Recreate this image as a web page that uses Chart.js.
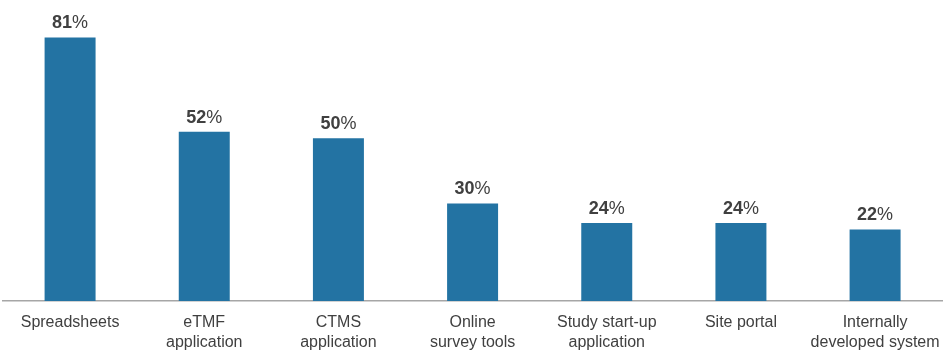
<!DOCTYPE html>
<html>
<head>
<meta charset="utf-8">
<script src="https://cdn.jsdelivr.net/npm/chart.js@4"></script>
<style>
  html, body { margin: 0; padding: 0; background: #fff; }
  #wrap { width: 952px; height: 364px; }
</style>
</head>
<body>
<div id="wrap"><canvas id="myChart"></canvas></div>
<script>
let categories = [
  'Spreadsheets',
  ['eTMF', 'application'],
  ['CTMS', 'application'],
  ['Online', 'survey tools'],
  ['Study start-up', 'application'],
  'Site portal',
  ['Internally', 'developed system']
]
let shares = [81, 52, 50, 30, 24, 24, 22]

let textColor = '#404040'
let barColor = '#2373a3'

// number in bold, % sign regular, above each bar
let valueLabels = {
  id: 'valueLabels',
  afterDatasetsDraw(chart) {
    let ctx = chart.ctx
    let meta = chart.getDatasetMeta(0)
    ctx.save()
    ctx.fillStyle = textColor
    ctx.textBaseline = 'alphabetic'
    meta.data.forEach(function(bar, i) {
      let num = String(chart.data.datasets[0].data[i])
      ctx.font = 'bold 18px "Liberation Sans", Arial, sans-serif'
      let w1 = ctx.measureText(num).width
      ctx.font = '18px "Liberation Sans", Arial, sans-serif'
      let w2 = ctx.measureText('%').width
      let x0 = bar.x - (w1 + w2) / 2
      let y = bar.y - 9
      ctx.font = 'bold 18px "Liberation Sans", Arial, sans-serif'
      ctx.textAlign = 'left'
      ctx.fillText(num, x0, y)
      ctx.font = '18px "Liberation Sans", Arial, sans-serif'
      ctx.fillText('%', x0 + w1, y)
    })
    ctx.restore()
  }
}

new Chart(document.getElementById('myChart'), {
  type: 'bar',
  data: {
    labels: categories,
    datasets: [{
      data: shares,
      backgroundColor: barColor,
      borderWidth: 0,
      categoryPercentage: 1,
      barPercentage: 0.38
    }]
  },
  options: {
    responsive: true,
    maintainAspectRatio: false,
    animation: false,
    layout: { padding: { left: 3, right: 6, top: 0, bottom: -1 } },
    plugins: {
      legend: { display: false },
      tooltip: { enabled: false }
    },
    scales: {
      x: {
        grid: { display: false, drawTicks: false },
        border: { display: true, color: '#a6a6a6', width: 1.5 },
        ticks: {
          color: textColor,
          padding: 12,
          maxRotation: 0,
          autoSkip: false,
          font: { family: '"Liberation Sans", Arial, sans-serif', size: 16, lineHeight: 1.25 }
        }
      },
      y: {
        display: false,
        min: 0,
        max: 92.5
      }
    }
  },
  plugins: [valueLabels]
})
</script>
</body>
</html>
